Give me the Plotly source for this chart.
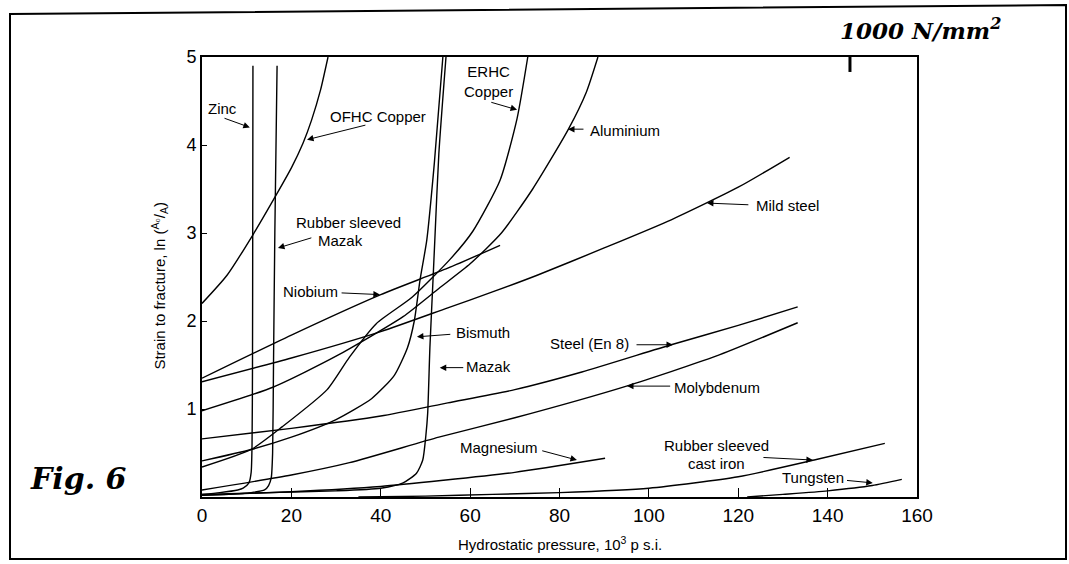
import plotly.graph_objects as go

# ---------------- data ----------------
zinc_x = [0, 4, 8, 9.2, 10.5, 11.0, 11.2, 11.3, 11.35, 11.4]
zinc_y = [0.03, 0.05, 0.08, 0.10, 0.16, 0.28, 0.6, 1.5, 3.0, 4.9]

rs_mazak_x = [0, 6, 11, 14, 14.9, 15.5, 15.8, 16.0, 16.3, 16.8]
rs_mazak_y = [0.02, 0.03, 0.05, 0.08, 0.13, 0.22, 0.5, 1.5, 3.0, 4.9]

ofhc_x = [0, 5.6, 11.4, 16.8, 20, 22.6, 24.5, 26.5, 28.2]
ofhc_y = [2.2, 2.52, 2.98, 3.45, 3.74, 4.02, 4.28, 4.62, 5.0]

mazak_x = [0, 15, 30, 40, 45, 48, 49.4, 50.1, 50.5, 51.0, 51.7, 52.1, 53.0, 54.6]
mazak_y = [0.03, 0.05, 0.07, 0.10, 0.16, 0.27, 0.42, 0.7, 0.95, 1.7, 2.47, 2.92, 3.9, 5.0]

bismuth_x = [0, 11, 20, 30, 38, 43, 46, 47.5, 48.8, 50.3, 52.0, 53.9]
bismuth_y = [0.41, 0.54, 0.68, 0.88, 1.12, 1.38, 1.7, 2.0, 2.47, 2.92, 3.8, 5.0]

erhc_x = [0, 11, 18, 28, 33, 39, 47, 55.5, 60.6, 66.7, 70.5, 72.9]
erhc_y = [0.34, 0.54, 0.8, 1.22, 1.59, 1.97, 2.27, 2.7, 3.02, 3.6, 4.3, 5.0]

alu_x = [0, 16, 30, 45, 53, 60, 67, 74, 82, 86, 88.6]
alu_y = [0.98, 1.25, 1.6, 2.05, 2.37, 2.65, 3.0, 3.5, 4.18, 4.6, 5.0]

niobium_x = [0, 20, 40, 55, 66.7]
niobium_y = [1.35, 1.84, 2.3, 2.6, 2.86]

mild_x = [0, 20, 40, 55, 65, 75, 90, 105, 120, 131.5]
mild_y = [1.31, 1.58, 1.88, 2.15, 2.33, 2.52, 2.83, 3.15, 3.52, 3.86]

en8_x = [0, 20, 40, 55, 70, 85, 105, 120, 133.3]
en8_y = [0.66, 0.78, 0.92, 1.07, 1.22, 1.42, 1.73, 1.95, 2.16]

moly_x = [0, 20, 33, 53, 70, 95, 115, 133.3]
moly_y = [0.08, 0.25, 0.39, 0.68, 0.9, 1.26, 1.6, 1.98]

magnesium_x = [0, 20, 40, 54, 70, 90.2]
magnesium_y = [0.02, 0.06, 0.12, 0.19, 0.28, 0.44]

castiron_x = [35, 50, 65, 80, 100, 120, 137, 152.8]
castiron_y = [0.0, 0.01, 0.03, 0.05, 0.1, 0.23, 0.42, 0.61]

tungsten_x = [122, 130, 140, 150, 156.6]
tungsten_y = [0.0, 0.03, 0.07, 0.13, 0.2]

x_ticks = [0, 20, 40, 60, 80, 100, 120, 140, 160]
y_ticks = [1, 2, 3, 4, 5]

curves = [
    (zinc_x, zinc_y), (rs_mazak_x, rs_mazak_y), (ofhc_x, ofhc_y),
    (mazak_x, mazak_y), (bismuth_x, bismuth_y), (erhc_x, erhc_y),
    (alu_x, alu_y), (niobium_x, niobium_y), (mild_x, mild_y),
    (en8_x, en8_y), (moly_x, moly_y), (magnesium_x, magnesium_y),
    (castiron_x, castiron_y), (tungsten_x, tungsten_y),
]

# ---------------- figure ----------------
fig = go.Figure()
for cx, cy in curves:
    fig.add_trace(go.Scatter(x=cx, y=cy, mode="lines",
                             line=dict(color="black", width=1.4, shape="spline", smoothing=0.6),
                             showlegend=False, hoverinfo="skip"))

FONT = "Liberation Sans"

labels = [
    ("Zinc", 4.5, 4.42),
    ("OFHC Copper", 39.4, 4.32),
    ("Rubber sleeved", 32.7, 3.125),
    ("Mazak", 30.9, 2.92),
    ("Niobium", 24.2, 2.33),
    ("ERHC<br>Copper", 64.0, 4.72),
    ("Aluminium", 94.6, 4.17),
    ("Mild steel", 131.0, 3.31),
    ("Bismuth", 62.9, 1.875),
    ("Steel (En 8)", 86.8, 1.75),
    ("Mazak", 64.0, 1.48),
    ("Molybdenum", 115.2, 1.25),
    ("Magnesium", 66.4, 0.557),
    ("Rubber sleeved", 115.2, 0.59),
    ("cast iron", 115.2, 0.386),
    ("Tungsten", 136.7, 0.227),
]
for t, lx, ly in labels:
    fig.add_annotation(x=lx, y=ly, text=t, showarrow=False, xref="x", yref="y",
                       xanchor="center", yanchor="middle",
                       font=dict(family=FONT, size=15, color="black"))

# arrows: (tail_x, tail_y, tip_x, tip_y)
arrows = [
    (4.7, 4.31, 10.7, 4.2),
    (36.9, 4.23, 23.5, 4.06),
    (24.8, 2.95, 17.0, 2.83),
    (30.9, 2.32, 39.8, 2.3),
    (64.4, 4.49, 70.5, 4.4),
    (85.7, 4.18, 81.9, 4.18),
    (122.6, 3.32, 113.0, 3.34),
    (55.9, 1.85, 48.1, 1.82),
    (96.9, 1.73, 105.4, 1.73),
    (58.8, 1.47, 53.2, 1.47),
    (105.1, 1.26, 95.1, 1.26),
    (75.8, 0.53, 83.9, 0.42),
    (125.3, 0.45, 136.7, 0.42),
    (144.0, 0.19, 150.1, 0.16),
]
for tx, ty, hx, hy in arrows:
    fig.add_annotation(x=hx, y=hy, ax=tx, ay=ty, xref="x", yref="y", axref="x", ayref="y",
                       text="", showarrow=True, arrowhead=2, arrowsize=1.3, arrowwidth=1,
                       arrowcolor="black")

# axis titles
fig.add_annotation(x=0.5, y=-0.105, xref="paper", yref="paper", showarrow=False,
                   xanchor="center", yanchor="middle",
                   text="Hydrostatic pressure, 10<sup>3</sup> p s.i.",
                   font=dict(family=FONT, size=15, color="black"))
fig.add_annotation(x=-0.059, y=0.48, xref="paper", yref="paper", showarrow=False, textangle=-90,
                   xanchor="center", yanchor="middle",
                   text="Strain to fracture, ln (<sup>A₀</sup>/<sub>A</sub>)",
                   font=dict(family=FONT, size=15, color="black"))

# handwritten notes
fig.add_annotation(x=(920 - 202) / 715, y=(497 - 29) / 440, xref="paper", yref="paper",
                   xanchor="center", yanchor="middle",
                   showarrow=False, text="<b><i>1000 N/mm<sup>2</sup></i></b>",
                   font=dict(family="DejaVu Serif", size=23, color="black"))
fig.add_annotation(x=(78 - 202) / 715, y=(497 - 478) / 440, xref="paper", yref="paper",
                   xanchor="center", yanchor="middle",
                   showarrow=False, text="<b><i>Fig. 6</i></b>",
                   font=dict(family="DejaVu Serif", size=30, color="black"))

# 1000 N/mm^2 marker tick on top axis (145 ksi)
fig.add_shape(type="line", x0=145, x1=145, y0=5, y1=4.83, xref="x", yref="y",
              line=dict(color="black", width=3))

# outer frame of the scanned page
def px(p):
    return (p - 202) / 715
def py(p):
    return (497 - p) / 440
fig.add_shape(type="path", xref="paper", yref="paper",
              path=f"M {px(10)} {py(559)} L {px(10)} {py(14)} L {px(1066)} {py(5)} L {px(1066)} {py(559)} Z",
              line=dict(color="black", width=2))

fig.update_xaxes(range=[0, 160], tickvals=x_ticks, ticktext=[str(v) for v in x_ticks],
                 ticks="inside", ticklen=9, tickwidth=1.2, tickcolor="black",
                 showline=True, linecolor="black", linewidth=2, mirror=True,
                 showgrid=False, zeroline=False,
                 tickfont=dict(family=FONT, size=19, color="black"))
fig.update_yaxes(range=[0, 5], tickvals=y_ticks, ticktext=[str(v) for v in y_ticks],
                 ticks="inside", ticklen=5, tickwidth=1.2, tickcolor="black",
                 showline=True, linecolor="black", linewidth=2, mirror=True,
                 showgrid=False, zeroline=False,
                 tickfont=dict(family=FONT, size=18, color="black"))

fig.update_layout(width=1069, height=564,
                  margin=dict(l=202, r=152, t=57, b=67, pad=0),
                  paper_bgcolor="white", plot_bgcolor="white")

fig.write_html("out.html")
